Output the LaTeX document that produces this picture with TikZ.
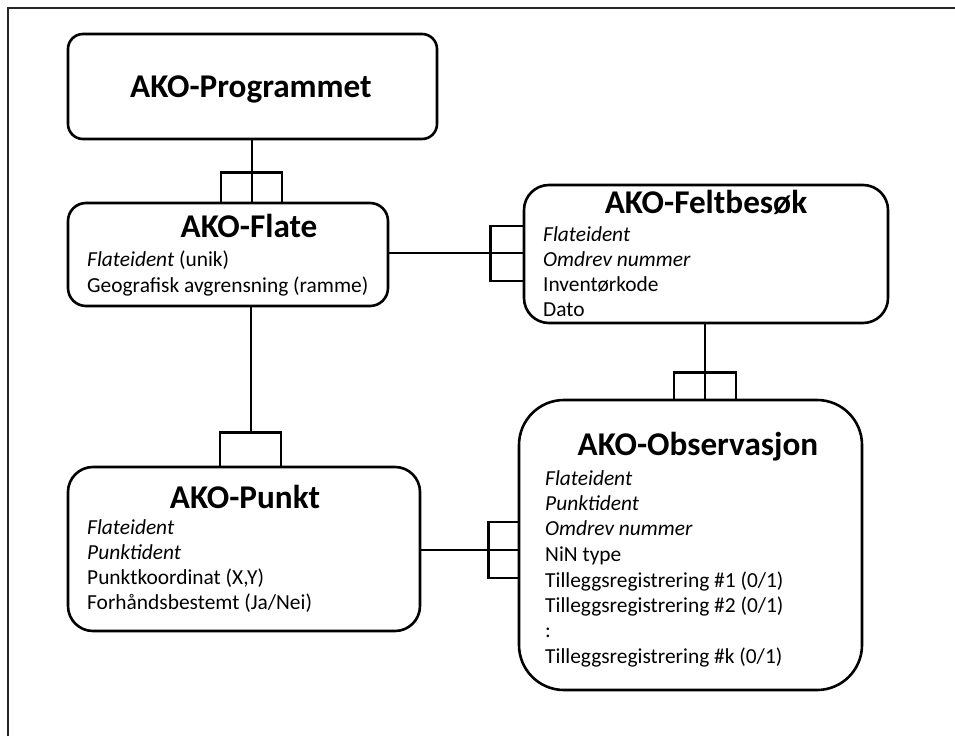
\documentclass[tikz,border=0pt]{standalone}
\usepackage{fontspec}
\setmainfont{Carlito}
\begin{document}
\begin{tikzpicture}[x=1pt,y=-1pt,
  entity/.style={draw, line width=2.6pt, inner sep=0pt},
  link/.style={line width=2.6pt},
  ttl/.style={font=\fontsize{33.2}{38}\selectfont\bfseries, anchor=base, inner sep=0pt},
  attr/.style={font=\fontsize{21.4}{25}\selectfont, anchor=base west, inner sep=0pt}]
\useasboundingbox (0,0) rectangle (955,736);
% outer frame, open towards right and bottom
\draw[line width=1.6pt, black!85] (8,736) -- (8,8) -- (955,8);

% entity boxes
\node[entity, rounded corners=15pt, minimum width=369pt, minimum height=105pt] (prog) at (252.5,86.5) {};
\node[entity, rounded corners=18pt, minimum width=320pt, minimum height=103pt] (flate) at (228,254.5) {};
\node[entity, rounded corners=25pt, minimum width=364pt, minimum height=138pt] (felt) at (706,254) {};
\node[entity, rounded corners=25pt, minimum width=352pt, minimum height=164pt] (punkt) at (244,549) {};
\node[entity, rounded corners=45pt, minimum width=343pt, minimum height=290pt] (obs) at (690.5,545) {};

% titles
\node[ttl] (progT) at (251,97) {AKO-Programmet};
\node[ttl] (flateT) at (249,237.5) {AKO-Flate};
\node[ttl] (feltT) at (706,213.5) {AKO-Feltbesøk};
\node[ttl] (punktT) at (245,508.5) {AKO-Punkt};
\node[ttl] (obsT) at (698,455.5) {AKO-Observasjon};

% attributes
\node[attr] (f1) at (87,266.5) {\textit{Flateident} (unik)};
\node[attr] (f2) at (87,292) {Geografisk avgrensning (ramme)};

\node[attr] (b1) at (543,241.5) {\textit{Flateident}};
\node[attr] (b2) at (543,266.5) {\textit{Omdrev nummer}};
\node[attr] (b3) at (543,291.5) {Inventørkode};
\node[attr] (b4) at (543,316.5) {Dato};

\node[attr] (p1) at (87,534) {\textit{Flateident}};
\node[attr] (p2) at (87,559) {\textit{Punktident}};
\node[attr] (p3) at (87,584) {Punktkoordinat (X,Y)};
\node[attr] (p4) at (87,609) {Forhåndsbestemt (Ja/Nei)};

\node[attr] (o1) at (545,485) {\textit{Flateident}};
\node[attr] (o2) at (545,510) {\textit{Punktident}};
\node[attr] (o3) at (545,535) {\textit{Omdrev nummer}};
\node[attr] (o4) at (545,561) {NiN type};
\node[attr] (o5) at (545,587) {Tilleggsregistrering \#1 (0/1)};
\node[attr] (o6) at (545,612) {Tilleggsregistrering \#2 (0/1)};
\node[attr] (o7) at (545,637) {:};
\node[attr] (o8) at (545,663) {Tilleggsregistrering \#k (0/1)};

% AKO-Programmet -- AKO-Flate
\draw[link] (prog.south -| 252,0) -- (flate.north -| 252,0);
\draw[link] ([xshift=-31pt]flate.north -| 252,0) -- ++(0,-29) -| ([xshift=30pt]flate.north -| 252,0);

% AKO-Flate -- AKO-Feltbesøk
\draw[link] (flate.east |- 0,253) -- (felt.west |- 0,253);
\draw[link] ([yshift=27pt]felt.west |- 0,253) -- ++(-32,0) |- ([yshift=-28pt]felt.west |- 0,253);

% AKO-Flate -- AKO-Punkt
\draw[link] (flate.south -| 251,0) -- (251,434);
\draw[link] ([xshift=-31pt]punkt.north -| 251,0) -- ++(0,-33) -| ([xshift=30pt]punkt.north -| 251,0);

% AKO-Feltbesøk -- AKO-Observasjon
\draw[link] (felt.south -| 705,0) -- (obs.north -| 705,0);
\draw[link] ([xshift=-31pt]obs.north -| 705,0) -- ++(0,-26) -| ([xshift=31pt]obs.north -| 705,0);

% AKO-Punkt -- AKO-Observasjon
\draw[link] (punkt.east |- 0,550) -- (obs.west |- 0,550);
\draw[link] ([yshift=28pt]obs.west |- 0,550) -- ++(-29,0) |- ([yshift=-28pt]obs.west |- 0,550);
\end{tikzpicture}
\end{document}
